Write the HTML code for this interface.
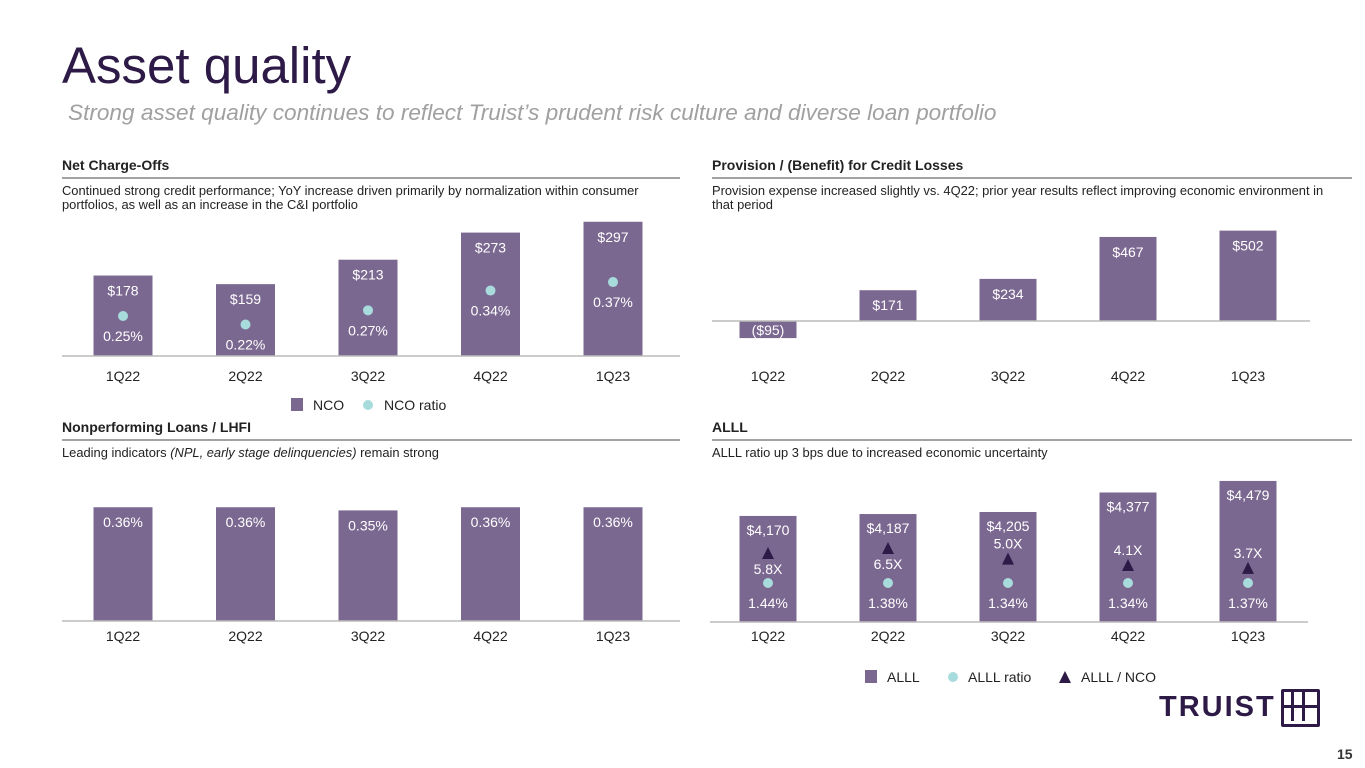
<!DOCTYPE html>
<html><head><meta charset="utf-8">
<style>
body{margin:0;background:#fff;width:1365px;height:768px;overflow:hidden;font-family:"Liberation Sans",Arial,sans-serif;position:relative}
.t{position:absolute;white-space:nowrap}
</style></head><body>
<div class="t" style="left:62px;top:36px;font-size:51px;color:#2e1a47">Asset quality</div>
<div class="t" style="left:68px;top:100px;font-size:22.6px;font-style:italic;color:#a0a0a0">Strong asset quality continues to reflect Truist’s prudent risk culture and diverse loan portfolio</div>
<svg id="s" width="1365" height="768" style="position:absolute;left:0;top:0"></svg>
<div class="t" style="left:1159px;top:691px;font-size:29px;font-weight:bold;letter-spacing:2px;color:#2e1a47">TRUIST</div>
<div style="position:absolute;left:1281px;top:689px;width:33px;height:32px;border:3px solid #2e1a47;border-radius:2px"></div>
<div style="position:absolute;left:1291px;top:692px;width:3px;height:29px;background:#2e1a47"></div>
<div style="position:absolute;left:1302px;top:692px;width:3px;height:29px;background:#2e1a47"></div>
<div style="position:absolute;left:1284px;top:705px;width:33px;height:3px;background:#2e1a47"></div>
<div class="t" style="left:1337px;top:746px;font-size:14px;font-weight:bold;color:#333">15</div>
<script>
const categories=["1Q22","2Q22","3Q22","4Q22","1Q23"];
const ncoValues=[178,159,213,273,297];
const ncoRatio=[0.25,0.22,0.27,0.34,0.37];
const provisionValues=[-95,171,234,467,502];
const nplRatio=[0.36,0.36,0.35,0.36,0.36];
const alllValues=[4170,4187,4205,4377,4479];
const alllRatio=[1.44,1.38,1.34,1.34,1.37];
const alllNco=[5.8,6.5,5.0,4.1,3.7];

const S=document.getElementById('s');const NS='http://www.w3.org/2000/svg';
function mk(tag,attrs,name,txt){const e=document.createElementNS(NS,tag);for(const k in attrs)e.setAttribute(k,attrs[k]);


if(txt!==undefined)e.textContent=txt;S.appendChild(e);return e;}
const BAR='#7b6891',DOT='#a8dcdc',TRI='#2e1a47';
function txt(x,y,s,name,opt){opt=opt||{};return mk('text',{x:x,y:y,'font-size':opt.size||14,fill:opt.fill||'#fff','text-anchor':opt.anchor||'middle','font-weight':opt.bold?'bold':'normal','font-style':opt.italic?'italic':'normal','font-family':'Liberation Sans, Arial, sans-serif'},name,s);}
function panel(x0,x1,yTitle,title,lines){
 txt(x0,yTitle,title,'panel-title',{fill:'#222',bold:true,anchor:'start',size:14});
 mk('line',{x1:x0,x2:x1,y1:yTitle+8,y2:yTitle+8,stroke:'#444','stroke-width':1},'panel-rule');
 lines.forEach((l,i)=>{const t=mk('text',{x:x0,y:yTitle+25+i*14,'font-size':12.9,fill:'#222','font-family':'Liberation Sans, Arial, sans-serif'},'panel-description');t.innerHTML=l;});
}
panel(62,680,170,'Net Charge-Offs',['Continued strong credit performance; YoY increase driven primarily by normalization within consumer','portfolios, as well as an increase in the C&amp;I portfolio']);
panel(712,1352,170,'Provision / (Benefit) for Credit Losses',['Provision expense increased slightly vs. 4Q22; prior year results reflect improving economic environment in','that period']);
panel(62,680,432,'Nonperforming Loans / LHFI',['Leading indicators <tspan font-style="italic">(NPL, early stage delinquencies)</tspan> remain strong']);
panel(712,1352,432,'ALLL',['ALLL ratio up 3 bps due to increased economic uncertainty']);

const L={cx0:123,dx:122.5,w:59};const R={cx0:768,dx:120,w:57};
const xL=i=>L.cx0+i*L.dx, xR=i=>R.cx0+i*R.dx;

// NCO
const ncoBase=356,ncoK=0.452;const yNco=v=>ncoBase-v*ncoK;const yNcoR=r=>316-(r-0.25)*283;
categories.forEach((c,i)=>{const x=xL(i);
 mk('rect',{x:x-L.w/2,y:yNco(ncoValues[i]),width:L.w,height:ncoBase-yNco(ncoValues[i]),fill:BAR},'nco-bar-'+c);
 txt(x,yNco(ncoValues[i])+20,'$'+ncoValues[i],'nco-value-label');
 mk('circle',{cx:x,cy:yNcoR(ncoRatio[i]),r:5,fill:DOT},'nco-ratio-dot-'+c);
 txt(x,yNcoR(ncoRatio[i])+25,ncoRatio[i].toFixed(2)+'%','nco-ratio-label');
 txt(x,381,c,'nco-x-label',{fill:'#222'});});
mk('line',{x1:62,x2:680,y1:ncoBase,y2:ncoBase,stroke:'#bbb','stroke-width':1.5},'nco-baseline');
mk('rect',{x:291,y:398,width:12,height:13,fill:BAR},'legend-nco-swatch');txt(313,410,'NCO','legend-nco',{fill:'#222',anchor:'start'});
mk('circle',{cx:368,cy:405,r:5,fill:DOT},'legend-nco-ratio-swatch');txt(384,410,'NCO ratio','legend-nco-ratio',{fill:'#222',anchor:'start'});

// Provision
const pBase=321,pK=0.18;const yP=v=>pBase-v*pK;
categories.forEach((c,i)=>{const x=xR(i),v=provisionValues[i];const y0=Math.min(yP(v),pBase),h=Math.abs(v*pK);
 mk('rect',{x:x-R.w/2,y:y0,width:R.w,height:h,fill:BAR},'provision-bar-'+c);
 const lab=v<0?'($'+(-v)+')':'$'+v;
 txt(x,v<0?pBase+14:y0+20,lab,'provision-value-label');
 txt(x,381,c,'provision-x-label',{fill:'#222'});});
mk('line',{x1:712,x2:1310,y1:pBase,y2:pBase,stroke:'#bbb','stroke-width':1.5},'provision-baseline');

// NPL
const nBase=621,nK=316;const yN=v=>nBase-v*nK;
categories.forEach((c,i)=>{const x=xL(i);
 mk('rect',{x:x-L.w/2,y:yN(nplRatio[i]),width:L.w,height:nBase-yN(nplRatio[i]),fill:BAR},'npl-bar-'+c);
 txt(x,yN(nplRatio[i])+20,nplRatio[i].toFixed(2)+'%','npl-value-label');
 txt(x,641,c,'npl-x-label',{fill:'#222'});});
mk('line',{x1:62,x2:680,y1:nBase,y2:nBase,stroke:'#bbb','stroke-width':1.5},'npl-baseline');

// ALLL
const aBase=622,aK=0.1133,aMin=3234;const yA=v=>aBase-(v-aMin)*aK;const yT=v=>548+(6.5-v)*7.1;
categories.forEach((c,i)=>{const x=xR(i);
 mk('rect',{x:x-R.w/2,y:yA(alllValues[i]),width:R.w,height:aBase-yA(alllValues[i]),fill:BAR},'alll-bar-'+c);
 txt(x,yA(alllValues[i])+19,'$'+alllValues[i].toLocaleString('en-US'),'alll-value-label');
 const ty=yT(alllNco[i]);
 mk('polygon',{points:`${x-6},${ty+6} ${x+6},${ty+6} ${x},${ty-6}`,fill:TRI},'alll-nco-triangle-'+c);
 txt(x,alllNco[i]>5.5?ty+21:ty-10,alllNco[i].toFixed(1)+'X','alll-nco-label');
 mk('circle',{cx:x,cy:583,r:5,fill:DOT},'alll-ratio-dot-'+c);
 txt(x,608,alllRatio[i].toFixed(2)+'%','alll-ratio-label');
 txt(x,641,c,'alll-x-label',{fill:'#222'});});
mk('line',{x1:710,x2:1308,y1:aBase,y2:aBase,stroke:'#bbb','stroke-width':1.5},'alll-baseline');
mk('rect',{x:865,y:670,width:12,height:13,fill:BAR},'legend-alll-swatch');txt(887,682,'ALLL','legend-alll',{fill:'#222',anchor:'start'});
mk('circle',{cx:953,cy:677,r:5,fill:DOT},'legend-alll-ratio-swatch');txt(968,682,'ALLL ratio','legend-alll-ratio',{fill:'#222',anchor:'start'});
mk('polygon',{points:'1059,683 1071,683 1065,671',fill:TRI},'legend-alll-nco-swatch');txt(1081,682,'ALLL / NCO','legend-alll-nco',{fill:'#222',anchor:'start'});
</script>
</body></html>
